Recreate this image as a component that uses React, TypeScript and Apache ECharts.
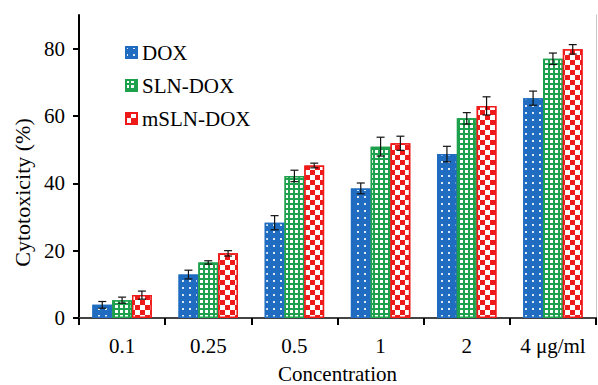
import React, { useEffect, useRef } from "react";
import * as echarts from "echarts";

const categories = ["0.1", "0.25", "0.5", "1", "2", "4 μg/ml"];
const seriesNames = ["DOX", "SLN-DOX", "mSLN-DOX"];
const dox = [3.9, 12.9, 28.3, 38.5, 48.7, 65.3];
const slnDox = [5.3, 16.5, 42.2, 50.9, 59.3, 77.0];
const mslnDox = [6.8, 19.2, 45.3, 51.9, 63.0, 79.8];
const doxErr = [1.0, 1.3, 2.1, 1.6, 2.3, 2.1];
const slnDoxErr = [0.9, 0.5, 1.7, 2.8, 1.7, 1.7];
const mslnDoxErr = [1.2, 0.8, 0.7, 2.1, 2.7, 1.4];
const yTicks = [0, 20, 40, 60, 80];

const FONT = "Liberation Serif";
const CAT_GAP = 0.31;

const colors = ["#1f6cc0", "#1ea14c", "#ee1a1a"];
const decals: any[] = [
  {
    symbol: "rect",
    symbolSize: 1,
    color: "rgba(255,255,255,0.85)",
    dashArrayX: [1.3, 4.5],
    dashArrayY: [1.3, 5],
  },
  {
    symbol: "rect",
    symbolSize: 1,
    color: "#ffffff",
    dashArrayX: [3, 1.2],
    dashArrayY: [3, 1.2],
  },
  {
    symbol: "rect",
    symbolSize: 1,
    color: "#ffffff",
    dashArrayX: [
      [5, 5],
      [0, 5, 5, 0],
    ],
    dashArrayY: [5, 0],
  },
];

export default function App() {
  const ref = useRef<HTMLDivElement>(null);
  useEffect(() => {
    if (!ref.current) return;
    const chart = echarts.init(ref.current, null, { renderer: "svg" });
    const values = [dox, slnDox, mslnDox];
    const errs = [doxErr, slnDoxErr, mslnDoxErr];

    const barSeries = values.map((vals, si) => ({
      type: "bar",
      name: seriesNames[si],
      data: vals,
      barGap: "0%",
      barCategoryGap: CAT_GAP * 100 + "%",
      itemStyle: {
        color: colors[si],
        borderColor: colors[si],
        borderWidth: 1.5,
        decal: decals[si],
      },
      z: 2,
    }));

    const errSeries = errs.map((ev, si) => ({
      type: "custom",
      name: "err" + si,
      data: ev.map((e, i) => [i, values[si][i], e]),
      z: 5,
      silent: true,
      renderItem: (params: any, api: any) => {
        const ci = api.value(0);
        const v = api.value(1);
        const e = api.value(2);
        const catW = api.size([1, 0])[0];
        const barW = (catW * (1 - CAT_GAP)) / 3;
        const off = (si - 1) * barW;
        const top = api.coord([ci, v + e]);
        const bot = api.coord([ci, v - e]);
        const x = top[0] + off;
        const cap = 4;
        const style = { stroke: "#111", lineWidth: 1.2 };
        return {
          type: "group",
          children: [
            { type: "line", shape: { x1: x, y1: top[1], x2: x, y2: bot[1] }, style },
            { type: "line", shape: { x1: x - cap, y1: top[1], x2: x + cap, y2: top[1] }, style },
            { type: "line", shape: { x1: x - cap, y1: bot[1], x2: x + cap, y2: bot[1] }, style },
          ],
        };
      },
    }));

    chart.setOption({
      animation: false,
      legend: {
        data: seriesNames,
        orient: "vertical",
        left: 120,
        top: 37,
        itemWidth: 11,
        itemHeight: 11,
        itemGap: 12,
        icon: "rect",
        textStyle: { fontFamily: FONT, fontSize: 21, color: "#000" },
      },
      grid: { left: 79, right: 2, top: 15, bottom: 67, outerBoundsMode: "none", containLabel: false },
      xAxis: [
        {
          type: "category",
          data: categories,
          name: "Concentration",
          nameLocation: "middle",
          nameGap: 45,
          nameTextStyle: { fontFamily: FONT, fontSize: 21, color: "#000" },
          axisLine: { lineStyle: { color: "#000", width: 2 } },
          axisTick: { show: true, length: 7, lineStyle: { color: "#000", width: 2 } },
          axisLabel: { interval: 0, fontFamily: FONT, fontSize: 21, color: "#000", margin: 17 },
        },
        {
          type: "category",
          data: categories,
          position: "top",
          axisLine: { lineStyle: { color: "#444", width: 2 } },
          axisTick: { show: false },
          axisLabel: { show: false },
        },
      ],
      yAxis: [
        {
          type: "value",
          min: 0,
          max: 90,
          interval: 20,
          name: "Cytotoxicity (%)",
          nameLocation: "middle",
          nameGap: 46,
          nameRotate: 90,
          nameTextStyle: {
            fontFamily: FONT,
            fontSize: 22,
            color: "#000",
            padding: [0, 52, 0, 0],
          },
          axisLine: { show: true, lineStyle: { color: "#000", width: 2 } },
          axisTick: {
            show: true,
            length: 6,
            customValues: yTicks,
            lineStyle: { color: "#000", width: 2 },
          },
          axisLabel: {
            fontFamily: FONT,
            fontSize: 21,
            color: "#000",
            margin: 14,
            customValues: yTicks,
          },
          splitLine: { show: false },
        },
        {
          type: "value",
          min: 0,
          max: 90,
          position: "right",
          axisLine: { show: true, lineStyle: { color: "#c8c8c8", width: 1 } },
          axisTick: { show: false },
          axisLabel: { show: false },
          splitLine: { show: false },
        },
      ],
      series: [...barSeries, ...errSeries],
    });
    return () => chart.dispose();
  }, []);
  return (
    <div
      ref={ref}
      style={{ position: "fixed", left: 0, top: 0, width: 598, height: 385, background: "#fff" }}
    />
  );
}
